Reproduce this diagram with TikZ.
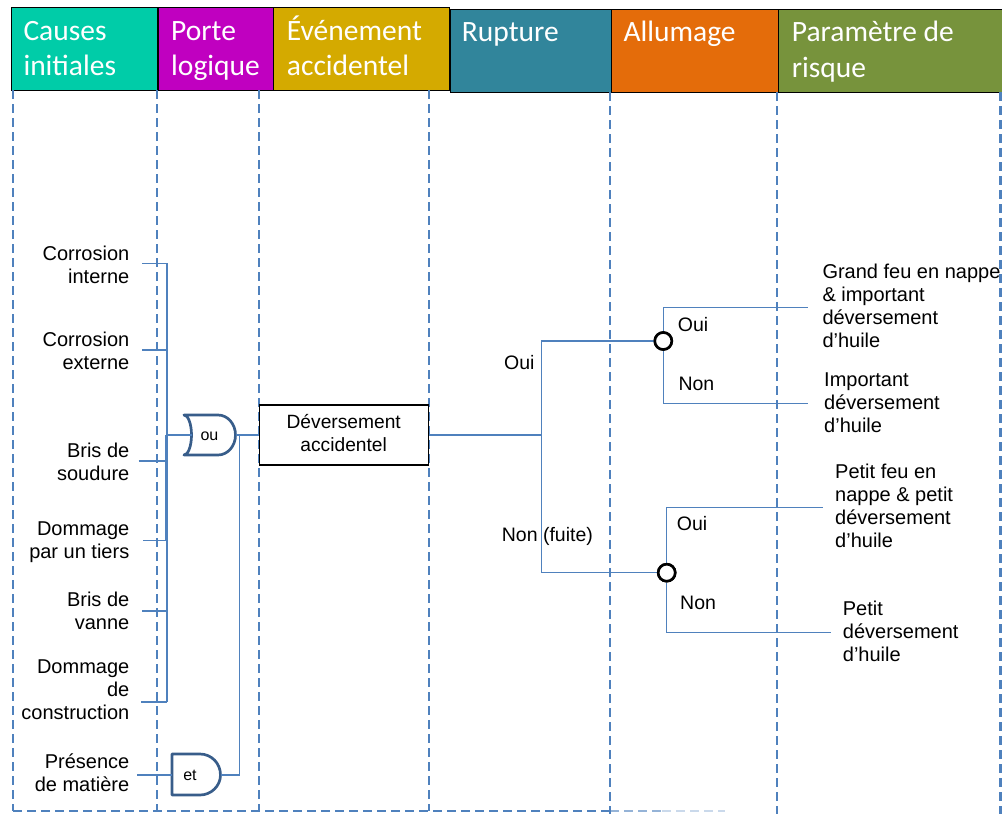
\documentclass[tikz,border=0pt]{standalone}
\usepackage{fontspec}
\setmainfont{Liberation Sans}
\newfontfamily\hdfont{Carlito}
\definecolor{dashblue}{RGB}{79,129,189}
\definecolor{lineblue}{RGB}{79,129,189}
\definecolor{gateblue}{RGB}{56,93,138}
\definecolor{cTeal}{RGB}{0,204,168}
\definecolor{cMag}{RGB}{192,0,192}
\definecolor{cGold}{RGB}{212,170,0}
\definecolor{cPetrol}{RGB}{49,133,155}
\definecolor{cOrange}{RGB}{228,108,10}
\definecolor{cOlive}{RGB}{119,147,60}
\begin{document}
\begin{tikzpicture}[x=1pt,y=-1pt,
  hdrbox/.style={draw=black,line width=1.2pt,anchor=north west,inner sep=0pt,minimum height=83pt},
  hdrtext/.style={anchor=north west,inner sep=0pt,align=left,text=white,font=\hdfont\fontsize{29.5}{35.5}\selectfont},
  lane/.style={draw=dashblue,line width=2.4pt,dash pattern=on 8.5pt off 5.5pt},
  conn/.style={draw=lineblue,line width=1.3pt},
  gate/.style={draw=gateblue,line width=2.7pt,line join=round},
  cause/.style={anchor=north east,inner sep=0pt,align=right,font=\fontsize{20}{23}\selectfont},
  risk/.style={anchor=north west,inner sep=0pt,align=left,font=\fontsize{20}{23}\selectfont},
  lbl/.style={anchor=base west,inner sep=0pt,font=\fontsize{19.5}{23}\selectfont},
  gatetext/.style={inner sep=0pt,font=\fontsize{16}{18}\selectfont},
  chance/.style={circle,draw=black,line width=2.6pt,minimum size=17pt,inner sep=0pt,fill=white},
]
\useasboundingbox (0,0) rectangle (1002,814);

% headers
\node[hdrbox,fill=cTeal,minimum width=146pt] (h1) at (11,7) {};
\node[hdrbox,fill=cMag,minimum width=115pt] (h2) at (157.5,7) {};
\node[hdrbox,fill=cGold,minimum width=176pt] (h3) at (273,7) {};
\node[hdrbox,fill=cPetrol,minimum width=161pt] (h4) at (449.5,9) {};
\node[hdrbox,fill=cOrange,minimum width=167pt] (h5) at (610.5,9) {};
\node[hdrbox,fill=cOlive,minimum width=226pt] (h6) at (777.5,9) {};
\node[hdrtext] (t1) at (23.3,15.2) {\strut Causes\\initiales};
\node[hdrtext] (t2) at (171,15.2) {\strut Porte\\logique};
\node[hdrtext] (t3) at (286.7,15.2) {\strut Événement\\accidentel};
\node[hdrtext] (t4) at (461.7,16.9) {\strut Rupture};
\node[hdrtext] (t5) at (623.3,16.9) {\strut Allumage};
\node[hdrtext] (t6) at (791.7,16.9) {\strut Paramètre de\\risque};

% lanes
\draw[lane] (13,90) -- (13,811);
\draw[lane] (157,90) -- (157,811);
\draw[lane] (259,90) -- (259,811);
\draw[lane] (429,90) -- (429,811);
\draw[lane] (610,92) -- (610,814);
\draw[lane] (777,92) -- (777,814);
\draw[lane] (1000.5,92) -- (1000.5,814);
\draw[lane] (13,811) -- (610,811);
\draw[lane,draw opacity=0.6] (610,811) -- (662,811);
\draw[lane,draw opacity=0.3] (662,811) -- (725,811);

% causes
\node[cause] (a1) at (129.5,243.9) {\strut Corrosion\\interne};
\node[cause] (a2) at (129.5,329.9) {\strut Corrosion\\externe};
\node[cause] (a3) at (129.5,440.9) {\strut Bris de\\soudure};
\node[cause] (a4) at (129.5,518.9) {\strut Dommage\\par un tiers};
\node[cause] (a5) at (129.5,589.9) {\strut Bris de\\vanne};
\node[cause] (a6) at (129.5,656.9) {\strut Dommage\\de\\construction};
\node[cause] (a7) at (129.5,751.9) {\strut Présence\\de matière};

\coordinate (k1) at (142,263.3);
\coordinate (k2) at (142,350);
\coordinate (k3) at (138.7,461);
\coordinate (k4) at (143,540.7);
\coordinate (k5) at (142,611);
\coordinate (k6) at (141,702);
\coordinate (k7) at (137,775);
\coordinate (bus) at (167,263.3);
\coordinate (busEnd) at (167,702);

% gates
\coordinate (orIn) at (191.5,435);
\coordinate (orOut) at (235.5,435);
\coordinate (andIn) at (172,775);
\coordinate (andOut) at (220.5,775);
\coordinate (joinX) at (239.3,435);
\draw[gate] (184,415) -- (218,415) .. controls (227.7,415) and (235.5,424) .. (orOut)
  .. controls (235.5,446) and (227.7,455) .. (218,455) -- (184,455)
  .. controls (188.1,455) and (191.5,446) .. (orIn) .. controls (191.5,424) and (188.1,415) .. (184,415) -- cycle;
\node[gatetext] (ou) at (209.5,436) {ou};
\draw[gate] (172,754) -- (200,754) .. controls (211.3,754) and (220.5,763.2) .. (andOut)
  .. controls (220.5,785.8) and (211.3,795) .. (200,795) -- (172,795) -- cycle;
\node[gatetext] (et) at (190,775) {et};

% cause connectors
\draw[conn] (bus) -- (busEnd);
\draw[conn] ([xshift=-1.3pt]orIn -| bus) -- ([xshift=-1.3pt]k4 -| bus);
\foreach \k in {k1,k2,k3,k4,k5,k6} \draw[conn] (\k) -- (\k -| bus);
\draw[conn] (orIn -| bus) -- (orIn);
\draw[conn] (k7) -- (andIn);

% event
\node[draw=black,line width=1.2pt,minimum width=169pt,minimum height=60pt,inner sep=0pt,align=center,
  font=\fontsize{19.2}{23.3}\selectfont] (ev) at (343.7,435) {\strut Déversement\\\strut accidentel};
\draw[conn] (orOut) -- (ev.west);
\draw[conn] (andOut) -- (andOut -| joinX) -- (joinX);

% rupture / allumage
\coordinate (rupt) at (541.5,435);
\node[chance] (c1) at (663.3,341) {};
\node[chance] (c2) at (666.7,572.7) {};
\coordinate (e1) at (808,307.3);
\coordinate (e2) at (808,403.3);
\coordinate (e3) at (823,507.7);
\coordinate (e4) at (830.7,632.7);
\draw[conn] (ev.east) -- (rupt);
\draw[conn] (c1.west) -| (rupt) |- (c2.west);
\draw[conn] (c1.north) |- (e1);
\draw[conn] (c1.south) |- (e2);
\draw[conn] (c2.north) |- (e3);
\draw[conn] (c2.south) |- (e4);
\node[chance] at (c1) {};
\node[chance] at (c2) {};

\node[lbl] (l1) at (504,369.3) {Oui};
\node[lbl] (l2) at (501.7,541) {Non (fuite)};
\node[lbl] (l3) at (677.7,331.7) {Oui};
\node[lbl] (l4) at (678.3,390) {Non};
\node[lbl] (l5) at (676.7,530) {Oui};
\node[lbl] (l6) at (680,609.3) {Non};

% risk
\node[risk] (r1) at (822.3,262.2) {\strut Grand feu en nappe\\\& important\\déversement\\d’huile};
\node[risk] (r2) at (824,370.6) {\strut Important\\déversement\\d’huile};
\node[risk] (r3) at (835,462.2) {\strut Petit feu en\\nappe \& petit\\déversement\\d’huile};
\node[risk] (r4) at (842.7,599.6) {\strut Petit\\déversement\\d’huile};
\end{tikzpicture}
\end{document}
